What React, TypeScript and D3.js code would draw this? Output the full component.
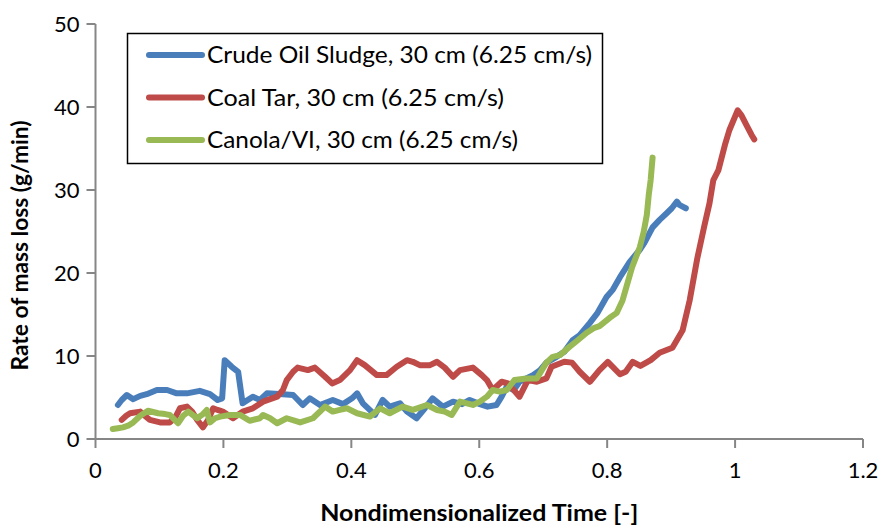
import React from "react";
import * as d3 from "d3";

const xTicks = [0, 0.2, 0.4, 0.6, 0.8, 1, 1.2];
const yTicks = [0, 10, 20, 30, 40, 50];

const seriesNames = [
  "Crude Oil Sludge, 30 cm (6.25 cm/s)",
  "Coal Tar, 30 cm (6.25 cm/s)",
  "Canola/VI, 30 cm (6.25 cm/s)",
];
const seriesColors = ["#4A7EBB", "#BE4B48", "#98B954"];

const crudeX = [0.035,0.041,0.049,0.059,0.070,0.080,0.096,0.112,0.127,0.143,0.163,0.179,0.191,0.198,0.202,0.213,0.223,0.230,0.246,0.257,0.268,0.293,0.309,0.324,0.335,0.351,0.371,0.387,0.401,0.409,0.418,0.437,0.449,0.460,0.476,0.487,0.502,0.515,0.527,0.543,0.559,0.573,0.585,0.601,0.613,0.627,0.635,0.643,0.654,0.663,0.684,0.695,0.705,0.721,0.733,0.746,0.757,0.773,0.785,0.799,0.809,0.820,0.835,0.851,0.858,0.871,0.882,0.893,0.901,0.909,0.913,0.918,0.923];
const crudeY = [4.1,4.7,5.3,4.8,5.2,5.4,5.9,5.9,5.5,5.5,5.8,5.4,4.7,4.9,9.5,8.7,8.1,4.3,5.1,4.7,5.5,5.4,5.3,4.1,4.9,4.1,4.7,4.2,4.9,5.5,4.3,2.9,4.7,3.9,4.3,3.3,2.5,3.7,4.9,3.9,4.5,4.2,4.7,4.2,3.9,4.1,5.1,6.3,5.9,6.9,7.7,8.3,9.2,9.9,10.5,11.9,12.5,14.0,15.2,17.1,18.0,19.5,21.3,22.8,23.6,25.5,26.4,27.2,27.8,28.6,28.2,28.0,27.8];

const tarX = [0.041,0.048,0.054,0.070,0.077,0.085,0.101,0.116,0.124,0.132,0.143,0.151,0.159,0.168,0.176,0.184,0.191,0.199,0.215,0.230,0.246,0.262,0.284,0.293,0.299,0.309,0.316,0.332,0.343,0.359,0.370,0.382,0.398,0.409,0.421,0.440,0.455,0.471,0.487,0.496,0.507,0.523,0.534,0.546,0.559,0.570,0.590,0.604,0.612,0.621,0.635,0.645,0.663,0.676,0.690,0.705,0.713,0.733,0.745,0.757,0.773,0.788,0.801,0.820,0.829,0.840,0.852,0.868,0.882,0.902,0.918,0.929,0.941,0.952,0.960,0.966,0.974,0.984,0.991,1.004,1.010,1.018,1.026,1.030];
const tarY = [2.3,2.8,3.1,3.3,2.8,2.3,2.0,2.0,2.5,3.7,3.9,3.3,2.3,1.4,2.3,3.7,3.5,3.3,2.5,3.3,3.7,4.5,5.1,5.9,7.1,8.1,8.6,8.3,8.6,7.5,6.7,7.1,8.3,9.5,8.9,7.7,7.7,8.7,9.5,9.3,8.9,8.9,9.3,8.6,7.5,8.3,8.6,7.7,7.1,5.9,6.9,6.7,5.1,7.1,6.9,7.3,8.7,9.3,9.2,8.1,6.9,8.3,9.3,7.8,8.1,9.3,8.8,9.5,10.4,11.0,13.1,16.7,21.8,25.7,28.4,31.2,32.4,35.4,37.2,39.6,39.0,37.8,36.6,36.1];

const canolaX = [0.027,0.035,0.043,0.051,0.059,0.070,0.082,0.098,0.109,0.116,0.129,0.137,0.145,0.159,0.168,0.174,0.179,0.187,0.195,0.210,0.226,0.241,0.257,0.262,0.273,0.284,0.299,0.320,0.340,0.359,0.371,0.382,0.393,0.409,0.429,0.445,0.460,0.480,0.496,0.518,0.534,0.546,0.557,0.570,0.590,0.601,0.612,0.621,0.632,0.643,0.655,0.674,0.690,0.705,0.715,0.726,0.741,0.754,0.768,0.780,0.788,0.804,0.815,0.824,0.830,0.839,0.851,0.857,0.862,0.865,0.868,0.871];
const canolaY = [1.2,1.3,1.4,1.6,2.0,2.8,3.4,3.1,3.0,2.9,1.9,2.8,3.3,2.5,3.0,3.5,2.0,2.5,2.7,2.9,2.9,2.2,2.5,2.9,2.5,1.9,2.5,2.0,2.5,3.9,3.3,3.5,3.7,3.1,2.7,3.7,3.1,3.9,3.5,4.1,3.5,3.3,2.9,4.5,4.1,4.5,5.1,5.9,5.7,5.9,7.1,7.3,7.3,9.2,9.9,10.1,11.1,11.9,12.8,13.4,13.6,14.6,15.2,16.7,18.3,20.7,23.1,24.9,27.0,29.4,31.2,33.9];

const W = 880;
const H = 527;
const margin = { left: 95.5, right: 17, top: 24, bottom: 88 };
const font = "Lato, 'Open Sans', sans-serif";

export default function App() {
  const x = d3.scaleLinear().domain([0, 1.2]).range([margin.left, W - margin.right]);
  const y = d3.scaleLinear().domain([0, 50]).range([H - margin.bottom, margin.top]);
  const line = d3
    .line<[number, number]>()
    .x((d) => x(d[0]))
    .y((d) => y(d[1]))
    .curve(d3.curveLinear);

  const series = [
    { xs: crudeX, ys: crudeY },
    { xs: tarX, ys: tarY },
    { xs: canolaX, ys: canolaY },
  ];
  const axisColor = "#868686";
  const y0 = y(0);
  const x0 = x(0);
  const legendW = [385, 297, 311];

  return (
    <svg width={W} height={H} style={{ position: "absolute", left: 0, top: 0 }} fontFamily={font}>
      <rect width={W} height={H} fill="#fff" />
      {/* axes */}
      <line x1={x0} x2={x(1.2)} y1={y0} y2={y0} stroke={axisColor} strokeWidth={2} />
      <line x1={x0} x2={x0} y1={y(50)} y2={y0} stroke={axisColor} strokeWidth={2} />
      {xTicks.map((t) => (
        <g key={"xt" + t}>
          <line x1={x(t)} x2={x(t)} y1={y0} y2={y0 + 9} stroke={axisColor} strokeWidth={2} />
          <text x={x(t)} y={y0 + 39} fontSize={22} textAnchor="middle" fill="#000">
            {String(t)}
          </text>
        </g>
      ))}
      {yTicks.map((t) => (
        <g key={"yt" + t}>
          <line x1={x0 - 9} x2={x0} y1={y(t)} y2={y(t)} stroke={axisColor} strokeWidth={2} />
          <text x={x0 - 16} y={y(t) + 8} fontSize={22} textAnchor="end" fill="#000">
            {String(t)}
          </text>
        </g>
      ))}
      {/* series */}
      {series.map((s, i) => (
        <path
          key={"s" + i}
          d={line(s.xs.map((v, j) => [v, s.ys[j]] as [number, number])) || ""}
          fill="none"
          stroke={seriesColors[i]}
          strokeWidth={6}
          strokeLinejoin="round"
          strokeLinecap="round"
        />
      ))}
      {/* legend */}
      <rect x={127.5} y={33.5} width={475} height={130} fill="#fff" stroke="#000" strokeWidth={1.5} />
      {seriesNames.map((n, i) => (
        <g key={"lg" + i}>
          <line x1={149} x2={202} y1={55 + i * 42.5} y2={55 + i * 42.5} stroke={seriesColors[i]} strokeWidth={6} strokeLinecap="round" />
          <text
            x={207}
            y={55 + i * 42.5 + 8}
            fontSize={23}
            fill="#000"
            textLength={legendW[i]}
            lengthAdjust="spacingAndGlyphs"
          >
            {n}
          </text>
        </g>
      ))}
      {/* axis titles */}
      <text
        x={(x0 + x(1.2)) / 2}
        y={521}
        fontSize={22}
        fontWeight="bold"
        textAnchor="middle"
        fill="#000"
        textLength={318}
        lengthAdjust="spacingAndGlyphs"
      >
        Nondimensionalized Time [-]
      </text>
      <text
        transform={`translate(28, ${(y(0) + y(50)) / 2 + 14}) rotate(-90)`}
        fontSize={22}
        fontWeight="bold"
        textAnchor="middle"
        fill="#000"
        textLength={250}
        lengthAdjust="spacingAndGlyphs"
      >
        Rate of mass loss (g/min)
      </text>
    </svg>
  );
}
